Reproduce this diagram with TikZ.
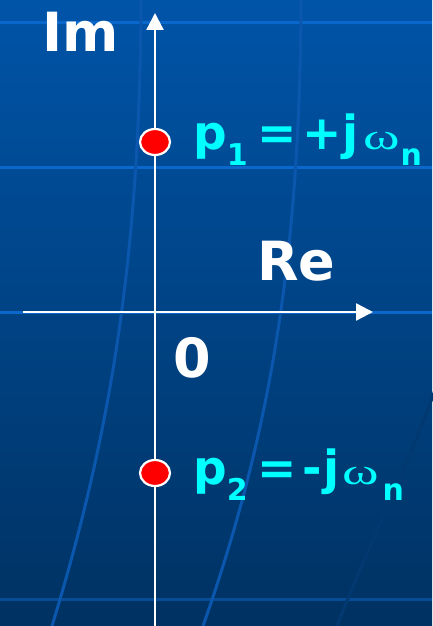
\documentclass[tikz,border=0pt]{standalone}
\usepackage{fontspec}
\setmainfont{DejaVu Sans}
\newfontfamily\omegafont[FakeStretch=1.5]{Liberation Serif}
\usepackage{xcolor}
\usepackage{tikz}
\usetikzlibrary{shapes.geometric, arrows.meta, positioning}

\definecolor{bgtop}{HTML}{0054A8}
\definecolor{bgbot}{HTML}{003262}
\definecolor{gridblue}{HTML}{0A68CC}
\definecolor{curveblue}{HTML}{0B57AE}
\definecolor{polecyan}{HTML}{00FFFF}

\newcommand{\lbsub}[1]{\raisebox{-16pt}{\fontsize{30}{30}\selectfont #1}}
\newcommand{\lbomega}{{\omegafont\fontsize{37}{37}\selectfont\mdseries ω}}

\begin{document}
\begin{tikzpicture}[
    x=1pt, y=-1pt,
    axis/.style={white, line width=2.4pt, -{Triangle[length=17pt, width=17pt]}},
    hline/.style={gridblue, line width=3pt},
    curve/.style={curveblue, line width=3pt},
    pole/.style={ellipse, draw=white, line width=2.2pt, fill=red, minimum width=30pt, minimum height=26pt, inner sep=0pt},
    axlabel/.style={anchor=base west, inner sep=0pt, text=white, font=\fontsize{54}{54}\selectfont\bfseries},
    polelabel/.style={anchor=base west, inner sep=0pt, text=polecyan, font=\fontsize{47}{47}\selectfont\bfseries},
]
    % background
    \fill[top color=bgtop, bottom color=bgbot] (0,0) rectangle (432,626);
    \useasboundingbox (0,0) rectangle (432,626);

    % stripes and curves of the slide
    \draw[hline] (0,23) -- (432,23);
    \draw[hline] (0,167) -- (432,167);
    \draw[hline] (0,312) -- (432,312);
    \draw[hline, draw=curveblue!70!bgbot] (0,599) -- (432,599);
    \draw[curve] (141,0) .. controls (140,250) and (112,430) .. (52,626);
    \draw[curve] (301,0) .. controls (300,250) and (272,430) .. (203,626);
    \draw[curve, draw=bgbot!80!curveblue] (445,360) .. controls (415,455) and (370,540) .. (337,626);

    % axes
    \coordinate (imlow) at (155,626);
    \coordinate (imtip) at (155,13);
    \coordinate (relow) at (23,312);
    \coordinate (retip) at (373,312);
    \draw[axis] (relow) -- (retip);
    \draw[axis] (imlow) -- (imtip);

    % axis labels
    \node[axlabel] (im) at (42,52) {Im};
    \node[axlabel] (re) at (257,280) {Re};
    \node[axlabel] (zero) at (173,377) {0};

    % poles
    \node[pole] (p1) at (155,142) {};
    \node[pole] (p2) at (155,473) {};
    \node[polelabel] (l1) at (193,149) {p\lbsub{1}\hspace{9.5pt}=\hspace{6pt}+\hspace{1pt}j\hspace{4pt}\lbomega\hspace{1pt}\lbsub{n}};
    \node[polelabel] (l2) at (193,484) {p\lbsub{2}\hspace{9.5pt}=\hspace{6pt}-\hspace{1pt}j\hspace{3pt}\lbomega\hspace{4pt}\lbsub{n}};
\end{tikzpicture}
\end{document}
